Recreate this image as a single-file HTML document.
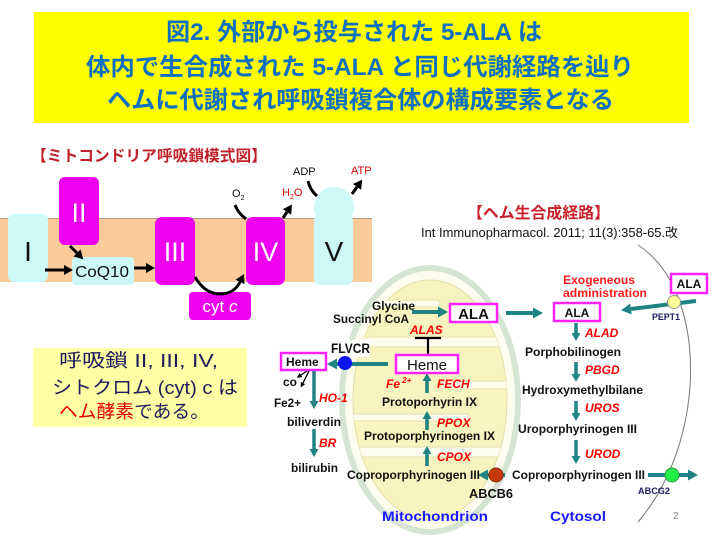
<!DOCTYPE html>
<html><head><meta charset="utf-8">
<style>
html,body{margin:0;padding:0;background:#fff;}
svg{display:block;}
.t{font-family:"Liberation Sans","Noto Sans CJK JP",sans-serif;}
.b{font-weight:bold;}
.r{fill:#ff0000;font-style:italic;font-weight:bold;font-size:12px;}
.k{fill:#111;font-weight:bold;font-size:12px;}
</style></head>
<body>
<svg width="720" height="540" viewBox="0 0 720 540" xmlns="http://www.w3.org/2000/svg" class="t">
<defs>
  <marker id="ta" markerUnits="userSpaceOnUse" markerWidth="10" markerHeight="11" viewBox="0 0 10 11" refX="0" refY="5.5" orient="auto">
    <path d="M0,0 L10,5.5 L0,11 z" fill="#1f8383"/>
  </marker>
  <marker id="tas" markerUnits="userSpaceOnUse" markerWidth="8" markerHeight="9" viewBox="0 0 8 9" refX="0" refY="4.5" orient="auto">
    <path d="M0,0 L8,4.5 L0,9 z" fill="#1f8383"/>
  </marker>
  <marker id="ba" markerUnits="userSpaceOnUse" markerWidth="9" markerHeight="10" viewBox="0 0 9 10" refX="0" refY="5" orient="auto">
    <path d="M0,0 L9,5 L0,10 z" fill="#000"/>
  </marker>
  <marker id="bs" markerUnits="userSpaceOnUse" markerWidth="5" markerHeight="5" viewBox="0 0 5 5" refX="0" refY="2.5" orient="auto">
    <path d="M0,0 L5,2.5 L0,5 z" fill="#000"/>
  </marker>
  <clipPath id="inner"><ellipse cx="430" cy="400" rx="77" ry="120"/></clipPath>
</defs>

<rect width="720" height="540" fill="#fff"/>

<!-- Title -->
<rect x="34" y="12" width="655" height="111" fill="#ffff00"/>
<g class="b" fill="#1070c0" font-size="24">
  <text x="166" y="40" textLength="376" lengthAdjust="spacingAndGlyphs">図2. 外部から投与された 5-ALA は</text>
  <text x="86" y="75" textLength="548" lengthAdjust="spacingAndGlyphs">体内で生合成された 5-ALA と同じ代謝経路を辿り</text>
  <text x="107" y="108" textLength="507" lengthAdjust="spacingAndGlyphs">ヘムに代謝され呼吸鎖複合体の構成要素となる</text>
</g>

<!-- Left heading -->
<text x="31" y="161" class="b" font-size="15.5" fill="#c0202a" textLength="236" lengthAdjust="spacingAndGlyphs">【ミトコンドリア呼吸鎖模式図】</text>

<!-- membrane band -->
<rect x="0" y="218" width="372" height="64" fill="#fccb9c"/>
<line x1="0" y1="218.5" x2="372" y2="218.5" stroke="#b09a8a" stroke-width="1"/>

<!-- complexes -->
<rect x="8" y="214" width="40" height="68" rx="6" fill="#ccf8f8"/>
<text x="28" y="261" font-size="28" text-anchor="middle" fill="#111">I</text>

<rect x="59" y="177" width="40" height="68" rx="6" fill="#f000f0"/>
<text x="79" y="222" font-size="27" text-anchor="middle" fill="#fff">II</text>

<rect x="72" y="257" width="62" height="28" rx="4" fill="#ccf8f8"/>
<text x="75" y="277" font-size="16" fill="#111" textLength="54" lengthAdjust="spacingAndGlyphs">CoQ10</text>

<rect x="155" y="217" width="40" height="68" rx="7" fill="#f000f0"/>
<text x="175" y="261" font-size="27" text-anchor="middle" fill="#fff">III</text>

<rect x="189" y="292" width="62" height="28" rx="4" fill="#f000f0"/>
<text x="220" y="312" font-size="17" text-anchor="middle" fill="#fff">cyt <tspan font-style="italic">c</tspan></text>

<rect x="246" y="217" width="39" height="68" rx="7" fill="#f000f0"/>
<text x="265.5" y="261" font-size="27" text-anchor="middle" fill="#fff">IV</text>

<circle cx="334" cy="207" r="20" fill="#ccf8f8"/>
<rect x="314" y="214" width="39" height="71" rx="7" fill="#ccf8f8"/>
<text x="334" y="261" font-size="28" text-anchor="middle" fill="#111">V</text>

<!-- left arrows -->
<g stroke="#000" stroke-width="3" fill="none">
  <line x1="45" y1="270" x2="64" y2="270" marker-end="url(#ba)"/>
  <line x1="70" y1="246" x2="77" y2="253" marker-end="url(#ba)"/>
  <line x1="134" y1="268" x2="146" y2="268" marker-end="url(#ba)"/>
  <path d="M195,277 Q205,294 220,294 Q234,294 240,282" marker-end="url(#ba)"/>
  <path d="M235,205 Q238,213 246,219"/>
  <line x1="283" y1="218" x2="287" y2="212" marker-end="url(#ba)"/>
  <path d="M308,181 Q310,190 317,196"/>
  <line x1="352" y1="194" x2="357" y2="187" marker-end="url(#ba)"/>
</g>
<text x="232" y="197" font-size="11" fill="#111">O<tspan font-size="7" dy="3">2</tspan></text>
<text x="282" y="196" font-size="11" fill="#e00000">H<tspan font-size="7" dy="3">2</tspan><tspan dy="-3">O</tspan></text>
<text x="293" y="175" font-size="11" fill="#111">ADP</text>
<text x="351" y="174" font-size="11" fill="#e00000">ATP</text>

<!-- explanation box -->
<rect x="33" y="348" width="214" height="79" fill="#ffffa6"/>
<g font-size="18.5" fill="#1c1c5c">
  <text x="59" y="367" textLength="159" lengthAdjust="spacingAndGlyphs">呼吸鎖 II, III, IV,</text>
  <text x="52" y="394" textLength="186" lengthAdjust="spacingAndGlyphs">シトクロム (cyt) c は</text>
  <text x="59" y="418" textLength="150" lengthAdjust="spacingAndGlyphs"><tspan fill="#e00000">ヘム酵素</tspan>である。</text>
</g>

<!-- Right heading -->
<text x="467" y="218" class="b" font-size="15.5" fill="#c8202a" textLength="143" lengthAdjust="spacingAndGlyphs">【ヘム生合成経路】</text>
<text x="421" y="237" font-size="12.5" fill="#111" textLength="257" lengthAdjust="spacingAndGlyphs">Int Immunopharmacol. 2011; 11(3):358-65.改</text>

<!-- cell membrane arc -->
<path d="M638,245 C708,290 708,440 638,522" fill="none" stroke="#777" stroke-width="1"/>

<!-- Mitochondrion -->
<ellipse cx="430" cy="400" rx="88" ry="132" fill="#fdfdee" stroke="#d6e5d3" stroke-width="6"/>
<ellipse cx="430" cy="400" rx="77" ry="120" fill="#f8f4c0" stroke="#e4dfa8" stroke-width="1"/>
<g clip-path="url(#inner)" fill="#fdfdee" stroke="#e4dfa8" stroke-width="1">
  <rect x="340" y="300" width="100" height="7" rx="3.5"/>
  <rect x="330" y="337" width="200" height="10" rx="5"/>
  <rect x="440" y="381" width="100" height="8" rx="4"/>
  <rect x="330" y="414" width="140" height="7" rx="3.5"/>
  <rect x="330" y="447" width="200" height="10" rx="5"/>
</g>

<!-- FLVCR label bg -->
<rect x="328" y="340" width="42" height="17" fill="#fff"/>

<!-- teal arrows -->
<g stroke="#1f8383" stroke-width="4" fill="none">
  <line x1="412" y1="312" x2="438" y2="312" marker-end="url(#ta)"/>
  <line x1="506" y1="313" x2="533" y2="313" marker-end="url(#ta)"/>
  <line x1="696" y1="301" x2="631" y2="309" marker-end="url(#ta)"/>
  <line x1="648" y1="475" x2="688" y2="475" marker-end="url(#ta)"/>
  <line x1="388" y1="364" x2="337" y2="364" marker-end="url(#ta)"/>
  <line x1="505" y1="475" x2="488" y2="475" marker-end="url(#ta)"/>
</g>
<g stroke="#1f8383" stroke-width="3.5" fill="none">
  <line x1="576" y1="323" x2="576" y2="333" marker-end="url(#tas)"/>
  <line x1="576" y1="362" x2="576" y2="374" marker-end="url(#tas)"/>
  <line x1="576" y1="401" x2="576" y2="413" marker-end="url(#tas)"/>
  <line x1="576" y1="440" x2="576" y2="456" marker-end="url(#tas)"/>
  <line x1="314" y1="371" x2="314" y2="401" marker-end="url(#tas)"/>
  <line x1="314" y1="429" x2="314" y2="449" marker-end="url(#tas)"/>
  <line x1="427" y1="393" x2="427" y2="381" marker-end="url(#tas)"/>
  <line x1="427" y1="430" x2="427" y2="419" marker-end="url(#tas)"/>
  <line x1="427" y1="466" x2="427" y2="454" marker-end="url(#tas)"/>
</g>

<!-- inhibition -->
<g stroke="#000" stroke-width="2.2">
  <line x1="428" y1="355" x2="428" y2="338"/>
  <line x1="415" y1="338" x2="441" y2="338"/>
</g>
<!-- small black arrows from heme -->
<g stroke="#000" stroke-width="1.3" fill="none">
  <line x1="310" y1="369" x2="301" y2="375" marker-end="url(#bs)"/>
  <line x1="310" y1="369" x2="303" y2="383" marker-end="url(#bs)"/>
</g>

<!-- boxes -->
<g fill="#fff" stroke="#ff22ff" stroke-width="2.5">
  <rect x="450" y="304" width="47" height="18"/>
  <rect x="554" y="303" width="46" height="18"/>
  <rect x="671" y="274" width="36" height="19"/>
  <rect x="396" y="355" width="62" height="18"/>
  <rect x="281" y="353" width="45" height="17"/>
</g>
<text x="473.5" y="319" class="b" font-size="15" text-anchor="middle" fill="#111">ALA</text>
<text x="577" y="317" class="b" font-size="12" text-anchor="middle" fill="#111">ALA</text>
<text x="689" y="288" class="b" font-size="12" text-anchor="middle" fill="#111">ALA</text>
<text x="427" y="370" font-size="15" text-anchor="middle" fill="#111">Heme</text>
<text x="286" y="366" class="k" font-size="11.5">Heme</text>

<!-- circles -->
<circle cx="345" cy="363" r="7" fill="#0a14f0"/>
<circle cx="496" cy="475" r="7" fill="#c43a0a" stroke="#8a2a08" stroke-width="1"/>
<circle cx="672" cy="475" r="7" fill="#22ee44" stroke="#2a9a4a" stroke-width="1"/>
<circle cx="674" cy="302" r="6.5" fill="#ffff99" stroke="#999" stroke-width="1"/>

<!-- texts right -->
<text x="563" y="284" class="b" font-size="12" fill="#ff1a1a" textLength="72" lengthAdjust="spacingAndGlyphs">Exogeneous</text>
<text x="563" y="297" class="b" font-size="12" fill="#ff1a1a" textLength="84" lengthAdjust="spacingAndGlyphs">administration</text>
<text x="652" y="320" class="b" font-size="9" fill="#1c1c5c" textLength="28" lengthAdjust="spacingAndGlyphs">PEPT1</text>

<text x="372" y="310" class="k" textLength="43" lengthAdjust="spacingAndGlyphs">Glycine</text>
<text x="333" y="323" class="k" textLength="76" lengthAdjust="spacingAndGlyphs">Succinyl CoA</text>
<text x="410" y="334" class="r">ALAS</text>
<text x="331" y="353" class="b" font-size="13.5" fill="#111" textLength="39" lengthAdjust="spacingAndGlyphs">FLVCR</text>
<text x="386" y="388" class="r">Fe<tspan font-size="8" dy="-5"> 2+</tspan></text>
<text x="437" y="388" class="r">FECH</text>
<text x="382" y="406" class="k" textLength="95" lengthAdjust="spacingAndGlyphs">Protoporhyrin IX</text>
<text x="437" y="427" class="r">PPOX</text>
<text x="364" y="440" class="k" textLength="131" lengthAdjust="spacingAndGlyphs">Protoporphyrinogen IX</text>
<text x="437" y="461" class="r">CPOX</text>
<text x="347" y="479" class="k" textLength="133" lengthAdjust="spacingAndGlyphs">Coproporphyrinogen III</text>
<text x="469" y="498" class="b" font-size="13" fill="#111" textLength="44" lengthAdjust="spacingAndGlyphs">ABCB6</text>
<text x="382" y="521" class="b" font-size="14" fill="#1a1aff" textLength="106" lengthAdjust="spacingAndGlyphs">Mitochondrion</text>

<text x="585" y="337" class="r">ALAD</text>
<text x="525" y="356" class="k" textLength="96" lengthAdjust="spacingAndGlyphs">Porphobilinogen</text>
<text x="585" y="374" class="r">PBGD</text>
<text x="522" y="394" class="k" textLength="121" lengthAdjust="spacingAndGlyphs">Hydroxymethylbilane</text>
<text x="585" y="412" class="r">UROS</text>
<text x="518" y="433" class="k" textLength="119" lengthAdjust="spacingAndGlyphs">Uroporphyrinogen III</text>
<text x="585" y="458" class="r">UROD</text>
<text x="512" y="479" class="k" textLength="133" lengthAdjust="spacingAndGlyphs">Coproporphyrinogen III</text>
<text x="638" y="494" class="b" font-size="9" fill="#1c1c5c" textLength="32" lengthAdjust="spacingAndGlyphs">ABCG2</text>
<text x="550" y="521" class="b" font-size="14" fill="#1a1aff" textLength="56" lengthAdjust="spacingAndGlyphs">Cytosol</text>
<text x="673" y="519" font-size="10" fill="#888">2</text>

<!-- cytosolic heme degradation -->
<text x="283" y="386" class="k">co</text>
<text x="274" y="407" class="k" textLength="27" lengthAdjust="spacingAndGlyphs">Fe2+</text>
<text x="319" y="402" class="r">HO-1</text>
<text x="287" y="426" class="k" textLength="54" lengthAdjust="spacingAndGlyphs">biliverdin</text>
<text x="319" y="447" class="r">BR</text>
<text x="291" y="472" class="k" textLength="47" lengthAdjust="spacingAndGlyphs">bilirubin</text>
</svg>
</body></html>
